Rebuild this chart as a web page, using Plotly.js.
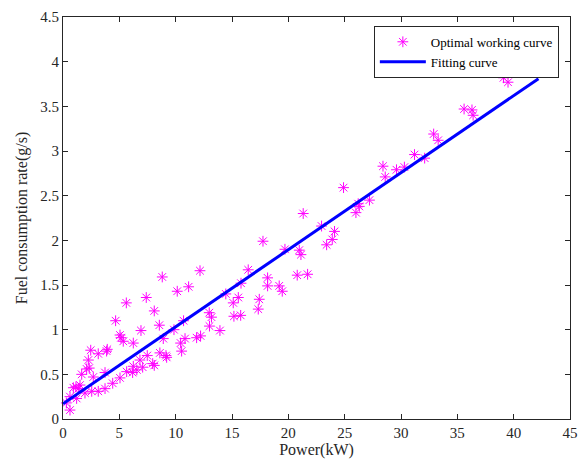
<!DOCTYPE html>
<html>
<head>
<meta charset="utf-8">
<script src="https://cdn.plot.ly/plotly-3.0.1.min.js"></script>
<style>
  html, body { margin: 0; padding: 0; background: #fff; }
  #chart { width: 579px; height: 465px; }
</style>
</head>
<body>
<div id="chart"></div>
<script>
// Operating points on the optimal working curve: engine power (kW) vs fuel rate (g/s)
const powerKW = [
  0.62, 0.30, 0.62, 0.92, 1.15, 1.36, 1.51, 1.21, 1.95, 1.66,
  2.10, 2.33, 2.25, 2.46, 3.13, 3.87, 3.93, 2.69, 3.73, 2.55,
  3.13, 3.73, 4.41, 5.06, 4.67, 5.06, 5.15, 5.35, 5.62, 6.24,
  5.65, 6.18, 6.55, 6.24, 6.83, 7.07, 6.92, 7.39, 7.48, 7.96,
  8.10, 8.10, 8.55, 8.60, 8.81, 8.90, 9.14, 9.20, 9.85, 10.14,
  10.44, 10.53, 10.70, 10.83, 11.15, 11.86, 12.21, 12.16, 12.98, 13.18,
  13.00, 13.93, 14.45, 15.11, 15.56, 15.17, 15.77, 15.80, 16.44, 17.33,
  17.42, 17.75, 18.16, 18.16, 19.19, 19.46, 19.70, 20.79, 20.97, 21.12,
  21.32, 21.71, 22.95, 23.40, 23.90, 24.10, 24.90, 26.00, 26.20, 26.30,
  27.20, 28.40, 28.60, 29.60, 30.30, 31.20, 32.10, 32.90, 33.30, 35.60,
  36.30, 36.40, 39.10, 39.50
];
const fuelRate = [
  0.10, 0.18, 0.25, 0.35, 0.36, 0.34, 0.38, 0.23, 0.29, 0.50,
  0.56, 0.57, 0.66, 0.77, 0.73, 0.76, 0.78, 0.47, 0.52, 0.31,
  0.31, 0.34, 0.40, 0.46, 1.10, 0.94, 0.91, 0.87, 1.30, 0.85,
  0.53, 0.52, 0.55, 0.59, 0.66, 0.58, 0.99, 1.36, 0.71, 0.62,
  0.60, 1.21, 1.05, 0.74, 1.59, 0.90, 0.71, 0.69, 1.00, 1.43,
  0.85, 0.76, 1.10, 0.90, 1.48, 0.91, 0.93, 1.66, 1.19, 1.14,
  1.04, 0.99, 1.40, 1.30, 1.36, 1.15, 1.16, 1.52, 1.67, 1.23,
  1.34, 1.99, 1.58, 1.49, 1.49, 1.43, 1.90, 1.61, 1.89, 1.84,
  2.30, 1.62, 2.16, 1.95, 2.01, 2.10, 2.59, 2.31, 2.41, 2.38,
  2.45, 2.83, 2.71, 2.79, 2.82, 2.96, 2.92, 3.19, 3.12, 3.47,
  3.46, 3.40, 3.82, 3.77
];

// Linear fit endpoints
const fitPower = [0, 42.2];
const fitFuel = [0.17, 3.81];

const xTicks = [0, 5, 10, 15, 20, 25, 30, 35, 40, 45];
const yTicks = [0, 0.5, 1, 1.5, 2, 2.5, 3, 3.5, 4, 4.5];

const serif = '"Liberation Serif", "Times New Roman", serif';
const axisColor = '#262626';

const traces = [
  {
    x: powerKW,
    y: fuelRate,
    type: 'scatter',
    mode: 'markers',
    name: 'Optimal working curve',
    marker: {
      symbol: 'asterisk-open',
      size: 9,
      color: '#ff00ff',
      line: { color: '#ff00ff', width: 1 }
    },
    cliponaxis: false
  },
  {
    x: fitPower,
    y: fitFuel,
    type: 'scatter',
    mode: 'lines',
    name: 'Fitting curve',
    line: { color: '#0000ff', width: 3 }
  }
];

const axisCommon = {
  showgrid: false,
  zeroline: false,
  showline: true,
  linecolor: axisColor,
  linewidth: 1,
  mirror: 'ticks',
  ticks: 'inside',
  ticklen: 5,
  tickcolor: axisColor,
  tickfont: { family: serif, size: 15, color: axisColor }
};

const layout = {
  width: 579,
  height: 465,
  margin: { l: 63, r: 9, t: 17, b: 46 },
  paper_bgcolor: '#ffffff',
  plot_bgcolor: '#ffffff',
  showlegend: true,
  xaxis: Object.assign({}, axisCommon, {
    range: [0, 45],
    tickvals: xTicks,
    ticktext: xTicks.map(String),
    title: { text: 'Power(kW)', font: { family: serif, size: 16, color: axisColor }, standoff: 2 }
  }),
  yaxis: Object.assign({}, axisCommon, {
    range: [0, 4.5],
    tickvals: yTicks,
    ticktext: yTicks.map(String),
    title: { text: 'Fuel consumption rate(g/s)', font: { family: serif, size: 16, color: axisColor }, standoff: 8 }
  }),
  legend: {
    x: 0.978,
    y: 0.978,
    xanchor: 'right',
    yanchor: 'top',
    bgcolor: '#ffffff',
    bordercolor: axisColor,
    borderwidth: 1,
    font: { family: serif, size: 13, color: '#000000' },
    tracegroupgap: 0,
    itemwidth: 46
  }
};

Plotly.newPlot('chart', traces, layout, { displayModeBar: false, staticPlot: true });
</script>
</body>
</html>
